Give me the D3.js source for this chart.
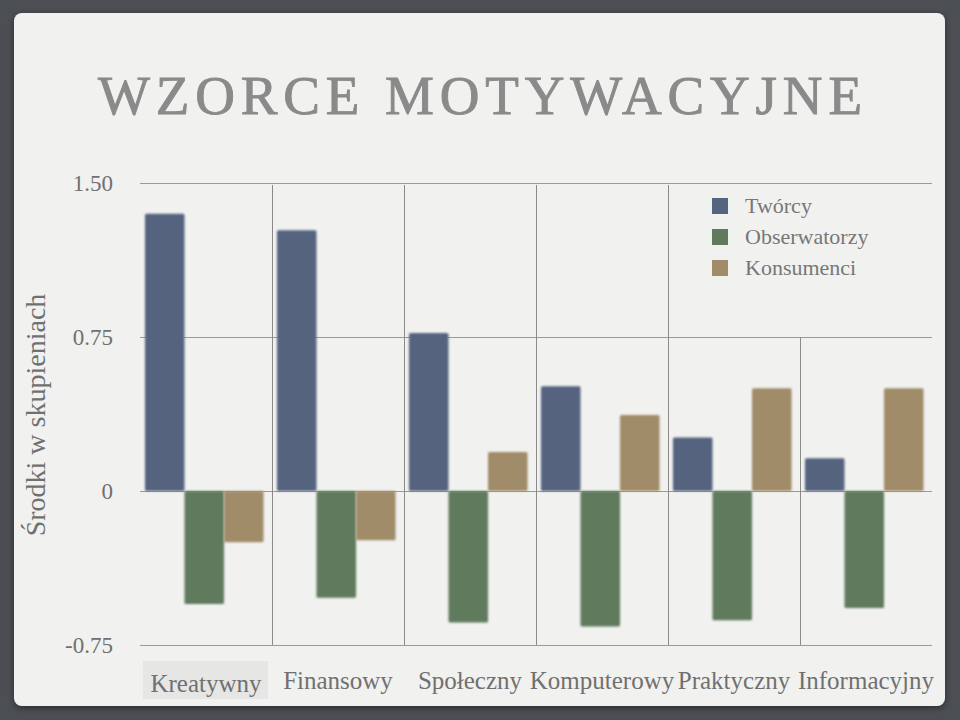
<!DOCTYPE html>
<html>
<head>
<meta charset="utf-8">
<script src="https://cdn.jsdelivr.net/npm/d3@7"></script>
<style>
  html, body { margin: 0; padding: 0; background: #4b4e53; }
  svg { display: block; }
</style>
</head>
<body>
<div id="chart"></div>
<script>
const categories = ["Kreatywny", "Finansowy", "Społeczny", "Komputerowy", "Praktyczny", "Informacyjny"];
const seriesNames = ["Twórcy", "Obserwatorzy", "Konsumenci"];
const tworcy = [1.35, 1.27, 0.77, 0.51, 0.26, 0.16];
const obserwatorzy = [-0.55, -0.52, -0.64, -0.66, -0.63, -0.57];
const konsumenci = [-0.25, -0.24, 0.19, 0.37, 0.50, 0.50];
const yTicks = [1.5, 0.75, 0, -0.75];
const colors = ["#55647f", "#5f7a5c", "#a08c68"];

const width = 960, height = 720;
const serif = "'Liberation Serif', 'DejaVu Serif', serif";

const svg = d3.select("#chart").append("svg")
  .attr("width", width)
  .attr("height", height);

const defs = svg.append("defs");
const soft = defs.append("filter").attr("id", "soft")
  .attr("x", "-10%").attr("y", "-10%").attr("width", "120%").attr("height", "120%");
soft.append("feGaussianBlur").attr("stdDeviation", 0.9);

const panelShadow = defs.append("filter").attr("id", "panelShadow")
  .attr("x", "-5%").attr("y", "-5%").attr("width", "110%").attr("height", "110%");
panelShadow.append("feDropShadow").attr("dx", 0).attr("dy", 2).attr("stdDeviation", 3)
  .attr("flood-color", "#000").attr("flood-opacity", 0.45);

// outer background and panel
svg.append("rect").attr("width", width).attr("height", height).attr("fill", "#4b4e53");
svg.append("rect")
  .attr("x", 14).attr("y", 13).attr("width", 931).attr("height", 693)
  .attr("rx", 8)
  .attr("fill", "#f1f1ef")
  .attr("filter", "url(#panelShadow)");

// title
svg.append("text")
  .attr("x", 480).attr("y", 114)
  .attr("text-anchor", "middle")
  .attr("font-family", serif)
  .attr("font-size", 55)
  .attr("fill", "#8a8a8a")
  .attr("stroke", "#8a8a8a")
  .attr("stroke-width", 0.9)
  .attr("textLength", 764)
  .attr("lengthAdjust", "spacing")
  .text("WZORCE MOTYWACYJNE");

const x = d3.scaleBand().domain(categories).range([140, 932]);
const y = d3.scaleLinear().domain([-0.75, 1.5]).range([645, 183]);
const xs = d3.scaleBand().domain(seriesNames).range([0, x.bandwidth()])
  .paddingInner(0).paddingOuter(0.17).align(0.37);

const data = categories.map((c, i) => ({
  category: c,
  values: [tworcy[i], obserwatorzy[i], konsumenci[i]]
}));

// horizontal grid
svg.append("g")
  .selectAll("line")
  .data(yTicks)
  .join("line")
  .attr("x1", 140).attr("x2", 932)
  .attr("y1", d => Math.round(y(d)) + 0.5)
  .attr("y2", d => Math.round(y(d)) + 0.5)
  .attr("stroke", "#9a9a9a")
  .attr("stroke-width", 1);

// vertical separators
svg.append("g")
  .selectAll("line")
  .data(categories.slice(1))
  .join("line")
  .attr("x1", d => Math.round(x(d)) + 0.5)
  .attr("x2", d => Math.round(x(d)) + 0.5)
  .attr("y1", (d, i) => i === categories.length - 2 ? y(0.75) : y(1.5) + 2)
  .attr("y2", y(-0.75))
  .attr("stroke", "#8a8a8a")
  .attr("stroke-width", 1);

// y tick labels
svg.append("g")
  .selectAll("text")
  .data(yTicks)
  .join("text")
  .attr("x", 113)
  .attr("y", d => y(d) + 8)
  .attr("text-anchor", "end")
  .attr("font-family", serif)
  .attr("font-size", 23)
  .attr("fill", "#707070")
  .text(d => d === 0 ? "0" : d3.format(".2f")(d).replace("−", "-"));

// y axis title
svg.append("text")
  .attr("transform", "translate(45,415) rotate(-90)")
  .attr("text-anchor", "middle")
  .attr("font-family", serif)
  .attr("font-size", 28)
  .attr("fill", "#707070")
  .text("Środki w skupieniach");

// bars
const groups = svg.append("g")
  .selectAll("g")
  .data(data)
  .join("g")
  .attr("transform", d => `translate(${x(d.category)},0)`);

groups.selectAll("rect")
  .data(d => d.values.map((v, i) => ({ series: seriesNames[i], value: v, i })))
  .join("rect")
  .attr("x", d => xs(d.series))
  .attr("width", xs.bandwidth())
  .attr("y", d => y(Math.max(0, d.value)))
  .attr("height", d => Math.abs(y(d.value) - y(0)))
  .attr("rx", 1.5)
  .attr("fill", d => colors[d.i])
  .attr("filter", "url(#soft)");

// highlight behind first category label
svg.append("rect")
  .attr("x", x(categories[0]) + 3).attr("y", 661)
  .attr("width", x.bandwidth() - 7).attr("height", 38)
  .attr("fill", "#e6e6e4");

// category labels
svg.append("g")
  .selectAll("text")
  .data(categories)
  .join("text")
  .attr("x", d => x(d) + x.bandwidth() / 2)
  .attr("y", (d, i) => i === 0 ? 692 : 689)
  .attr("text-anchor", "middle")
  .attr("font-family", serif)
  .attr("font-size", 25)
  .attr("fill", "#707070")
  .text(d => d);

// legend
const legend = svg.append("g")
  .selectAll("g")
  .data(seriesNames)
  .join("g")
  .attr("transform", (d, i) => `translate(712,${198 + i * 31})`);

legend.append("rect")
  .attr("width", 16).attr("height", 16)
  .attr("fill", (d, i) => colors[i]);

legend.append("text")
  .attr("x", 33).attr("y", 15)
  .attr("font-family", serif)
  .attr("font-size", 22)
  .attr("fill", "#777")
  .text(d => d);
</script>
</body>
</html>
